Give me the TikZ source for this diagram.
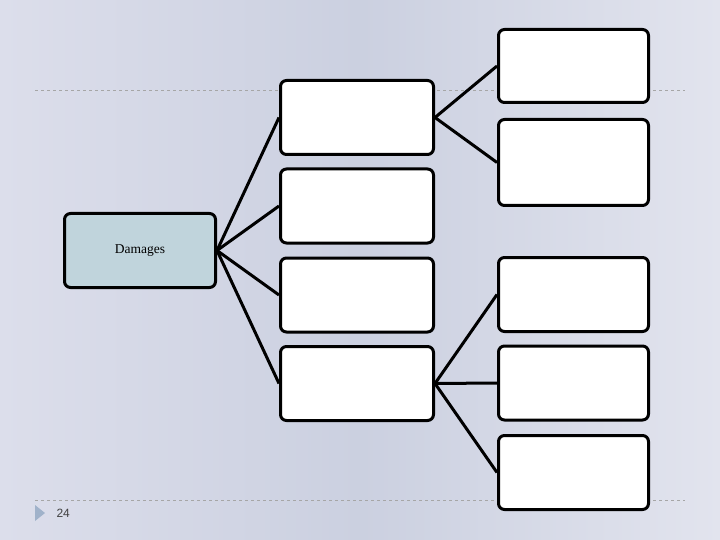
\documentclass[tikz,border=0pt]{standalone}
\usepackage{fontspec}
\setmainfont{Liberation Serif}
\newfontfamily\numfont{Liberation Sans}
\begin{document}
\begin{tikzpicture}[x=1pt,y=-1pt,
  box/.style={draw=black,line width=3pt,rounded corners=6pt,fill=white,inner sep=0pt,minimum width=151pt,minimum height=74pt},
  conn/.style={draw=black,line width=3pt},
  guide/.style={draw=gray!70,dashed,line width=0.6pt}]
\definecolor{bgL}{RGB}{220,222,235}
\definecolor{bgM}{RGB}{203,208,224}
\definecolor{bgR}{RGB}{226,228,238}
\definecolor{dambox}{RGB}{192,212,220}
\definecolor{tri}{RGB}{160,178,202}
\useasboundingbox (0,0) rectangle (720,540);
\shade[left color=bgL,right color=bgR,middle color=bgM] (0,0) rectangle (720,540);
\coordinate (gl1) at (35,90); \coordinate (gr1) at (685,90);
\coordinate (gl2) at (35,500); \coordinate (gr2) at (685,500);
\draw[guide] (gl1) -- (gr1);
\draw[guide] (gl2) -- (gr2);
\fill[tri] (35,505) -- (45,513) -- (35,521) -- cycle;
\node[anchor=west,text=black!75,font=\numfont\fontsize{12}{14}\selectfont] (pg) at (53,513) {24};
% nodes
\node[box,fill=dambox,minimum width=151pt,minimum height=74pt,font=\fontsize{13.5}{16}\selectfont] (dam) at (140,250.5) {Damages};
\node[box,minimum width=153pt] (m1) at (357,117.5) {};
\node[box,minimum width=153pt] (m2) at (357,206) {};
\node[box,minimum width=153pt] (m3) at (357,295) {};
\node[box,minimum width=153pt] (m4) at (357,383.5) {};
\node[box,minimum width=150pt,minimum height=73pt] (r1) at (573.5,66) {};
\node[box,minimum width=150pt,minimum height=86pt] (r2) at (573.5,162.5) {};
\node[box,minimum width=150pt] (r3) at (573.5,294.5) {};
\node[box,minimum width=150pt] (r4) at (573.5,383) {};
\node[box,minimum width=150pt] (r5) at (573.5,472.5) {};
% connectors
\foreach \m in {m1,m2,m3,m4} \draw[conn] (dam.east) -- (\m.west);
\draw[conn] (m1.east) -- (r1.west);
\draw[conn] (m1.east) -- (r2.west);
\draw[conn] (m4.east) -- (r3.west);
\draw[conn] (m4.east) -- (r4.west);
\draw[conn] (m4.east) -- (r5.west);
\end{tikzpicture}
\end{document}
